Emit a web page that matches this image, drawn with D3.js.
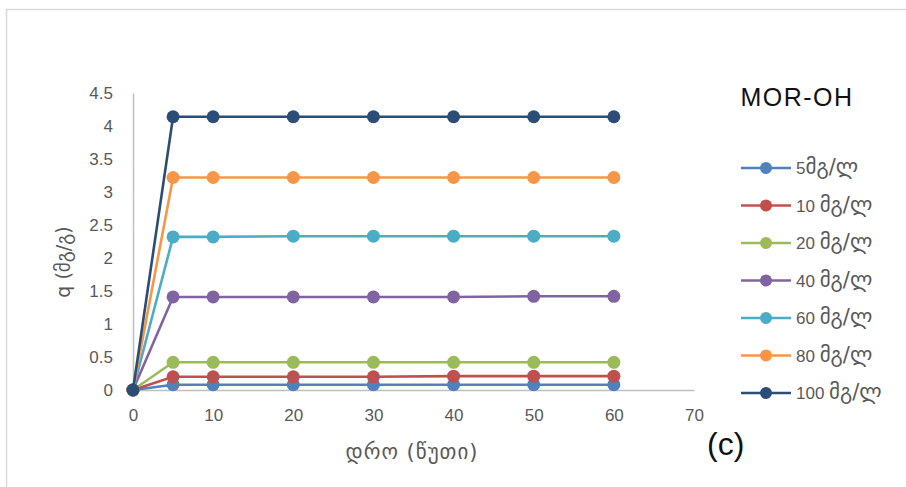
<!DOCTYPE html>
<html><head><meta charset="utf-8">
<script src="https://cdn.jsdelivr.net/npm/d3@7"></script>
<style>body{margin:0;background:#fff}svg{display:block}</style>
</head><body>
<svg id="c" width="906" height="487"></svg>
<script>
const times = [0, 5, 10, 20, 30, 40, 50, 60];
const seriesNames = ["5მგ/ლ", "10 მგ/ლ", "20 მგ/ლ", "40 მგ/ლ", "60 მგ/ლ", "80 მგ/ლ", "100 მგ/ლ"];
const s5   = [0, 0.08, 0.08, 0.08, 0.08, 0.08, 0.08, 0.08];
const s10  = [0, 0.20, 0.20, 0.20, 0.20, 0.21, 0.21, 0.21];
const s20  = [0, 0.42, 0.42, 0.42, 0.42, 0.42, 0.42, 0.42];
const s40  = [0, 1.41, 1.41, 1.41, 1.41, 1.41, 1.42, 1.42];
const s60  = [0, 2.32, 2.32, 2.33, 2.33, 2.33, 2.33, 2.33];
const s80  = [0, 3.22, 3.22, 3.22, 3.22, 3.22, 3.22, 3.22];
const s100 = [0, 4.14, 4.14, 4.14, 4.14, 4.14, 4.14, 4.14];
const seriesValues = [s5, s10, s20, s40, s60, s80, s100];
const colors = ["#4f81bd", "#c0504d", "#9bbb59", "#8064a2", "#4bacc6", "#f79646", "#2c4d75"];
const xTicks = [0, 10, 20, 30, 40, 50, 60, 70];
const yTicks = [0, 0.5, 1, 1.5, 2, 2.5, 3, 3.5, 4, 4.5];
const xTitle = "დრო  (წუთი)";
const yTitle = "q (მგ/გ)";
const chartTitle = "MOR-OH";
const panelLabel = "(c)";

const svg = d3.select("#c");
const font = "'DejaVu Sans', 'Noto Sans', sans-serif";
const latin = "'Liberation Sans', Arial, sans-serif";
const x = d3.scaleLinear().domain([0, 70]).range([133, 694]);
const y = d3.scaleLinear().domain([0, 4.5]).range([390, 93]);

// outer frame
svg.append("path").attr("d", "M6.5,487 L6.5,9.5 L906,9.5")
  .attr("fill", "none").attr("stroke", "#d9d9d9").attr("stroke-width", 1.5);

// axes
const xAxis = svg.append("g").attr("transform", "translate(0,390)")
  .call(d3.axisBottom(x).tickValues(xTicks).tickSize(0).tickPadding(19).tickFormat(d3.format("d")));
const yAxis = svg.append("g").attr("transform", "translate(133,0)")
  .call(d3.axisLeft(y).tickValues(yTicks).tickSize(0).tickPadding(20).tickFormat(d => String(d)));
[xAxis, yAxis].forEach(a => {
  a.select(".domain").attr("stroke", "#bfbfbf").attr("stroke-width", 1.5);
  a.selectAll("text").attr("fill", "#595959").style("font-family", latin).style("font-size", "17px");
});

// series
const line = d3.line().x((d, i) => x(times[i])).y(d => y(d));
seriesValues.forEach((vals, k) => {
  const g = svg.append("g");
  g.append("path").attr("d", line(vals)).attr("fill", "none")
    .attr("stroke", colors[k]).attr("stroke-width", 2.6);
  g.selectAll("circle").data(vals).join("circle")
    .attr("cx", (d, i) => x(times[i])).attr("cy", d => y(d)).attr("r", 6.5)
    .attr("fill", colors[k]);
});

// axis titles
svg.append("text").attr("x", 412).attr("y", 459).attr("text-anchor", "middle")
  .attr("fill", "#595959").style("font-family", font).style("font-size", "21px")
  .style("letter-spacing", "1px").text(xTitle);
svg.append("text").attr("transform", "translate(70,262) rotate(-90)").attr("text-anchor", "middle")
  .attr("fill", "#595959").style("font-family", font).style("font-size", "19px").text(yTitle);

// chart title
svg.append("text").attr("x", 797).attr("y", 106).attr("text-anchor", "middle")
  .attr("fill", "#111").style("font-family", latin).style("font-size", "25px")
  .style("letter-spacing", "1.5px").text(chartTitle);

// legend
const leg = svg.append("g");
seriesNames.forEach((name, k) => {
  const ly = 168 + k * 37.5;
  leg.append("line").attr("x1", 741).attr("x2", 791).attr("y1", ly).attr("y2", ly)
    .attr("stroke", colors[k]).attr("stroke-width", 2.6);
  leg.append("circle").attr("cx", 766).attr("cy", ly).attr("r", 6).attr("fill", colors[k]);
  const t = leg.append("text").attr("x", 796).attr("y", ly + 6).attr("fill", "#595959")
    .style("font-family", font);
  const m = name.match(/^(\d+\s?)(.*)$/);
  t.append("tspan").style("font-size", "17px").style("font-family", latin).text(m[1]);
  t.append("tspan").style("font-size", "21px").text(m[2]);
});

// panel label
svg.append("text").attr("x", 707).attr("y", 455).attr("fill", "#111")
  .style("font-family", latin).style("font-size", "32px").text(panelLabel);
</script>
</body></html>
